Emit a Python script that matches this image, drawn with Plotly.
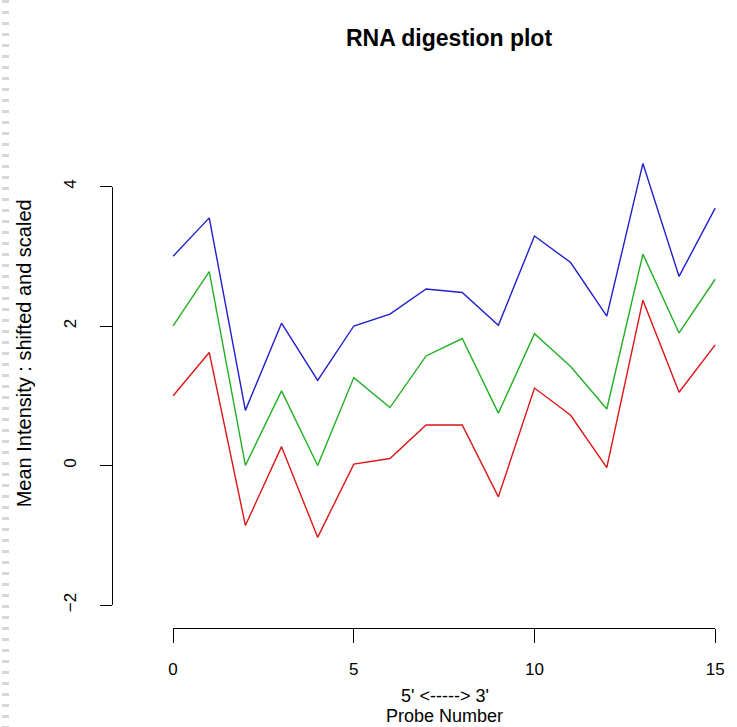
import plotly.graph_objects as go

# ---- data ----
probe = list(range(16))
red = [1.00, 1.62, -0.86, 0.27, -1.03, 0.02, 0.10, 0.58, 0.58, -0.45, 1.11, 0.72, -0.03, 2.37, 1.05, 1.73]
green = [2.00, 2.78, 0.00, 1.07, 0.00, 1.26, 0.83, 1.57, 1.82, 0.75, 1.89, 1.42, 0.81, 3.03, 1.90, 2.67]
blue = [3.00, 3.55, 0.79, 2.04, 1.22, 2.00, 2.17, 2.53, 2.48, 2.01, 3.29, 2.91, 2.14, 4.33, 2.71, 3.69]
x_ticks = [0, 5, 10, 15]
y_ticks = [-2, 0, 2, 4]

FONT = "Liberation Sans, Arial, sans-serif"
W, H = 737, 727
L, R, T, B = 112, 2, 120, 99

fig = go.Figure()
for ys, col in [(red, "#dd1515"), (green, "#22b022"), (blue, "#2020cc")]:
    fig.add_trace(go.Scatter(x=probe, y=ys, mode="lines",
                             line=dict(color=col, width=1.4),
                             showlegend=False, hoverinfo="skip"))
# dummy trace to create the display-axes subplot
fig.add_trace(go.Scatter(x=[None], y=[None], xaxis="x2", yaxis="y2",
                         showlegend=False, hoverinfo="skip"))

fig.update_layout(
    width=W, height=H,
    margin=dict(l=L, r=R, t=T, b=B),
    paper_bgcolor="white", plot_bgcolor="rgba(0,0,0,0)",
    font=dict(family=FONT, color="black", size=17),
    xaxis=dict(range=[-1.691, 15.299], visible=False, fixedrange=True),
    yaxis=dict(range=[-2.330, 4.953], visible=False, fixedrange=True),
    xaxis2=dict(domain=[0.09952, 0.98234], range=[0, 15], anchor="free", position=0,
                showline=True, linecolor="black", linewidth=1,
                ticks="outside", ticklen=14, tickwidth=1, tickcolor="black",
                tickvals=x_ticks, showgrid=False, zeroline=False,
                tickfont=dict(size=17), ticklabelstandoff=12),
    yaxis2=dict(domain=[0.04528, 0.86909], range=[-2, 4], anchor="free", position=0,
                showline=True, linecolor="black", linewidth=1,
                ticks="outside", ticklen=12, tickwidth=1, tickcolor="black",
                tickvals=y_ticks, showgrid=False, zeroline=False,
                tickangle=-90, tickfont=dict(size=17), ticklabelstandoff=17),
    title=dict(text="<b>RNA digestion plot</b>", x=449 / W, y=1 - 38 / H,
               xanchor="center", yanchor="middle",
               font=dict(family=FONT, size=23, color="black")),
)

pw = W - L - R
ph = H - T - B
def px(xp):
    return (xp - L) / pw
def py(yp):
    return (H - B - yp) / ph

fig.add_annotation(text="5' <-----> 3'", x=px(450), y=py(696), xref="paper", yref="paper",
                   showarrow=False, xanchor="center", yanchor="middle", font=dict(size=18))
fig.add_annotation(text="Probe Number", x=px(449), y=py(716), xref="paper", yref="paper",
                   showarrow=False, xanchor="center", yanchor="middle", font=dict(size=18))
fig.add_annotation(text="Mean Intensity : shifted and scaled", x=px(23), y=py(353),
                   xref="paper", yref="paper", textangle=-90,
                   showarrow=False, xanchor="center", yanchor="middle", font=dict(size=20))

# faint dashed strip along the left edge of the page
fig.add_shape(type="line", xref="paper", yref="paper", x0=px(4), x1=px(4), y0=py(0), y1=py(727),
              line=dict(color="#d6d6d6", width=7, dash="3px,8px"), layer="below")

fig.write_html("out.html")
